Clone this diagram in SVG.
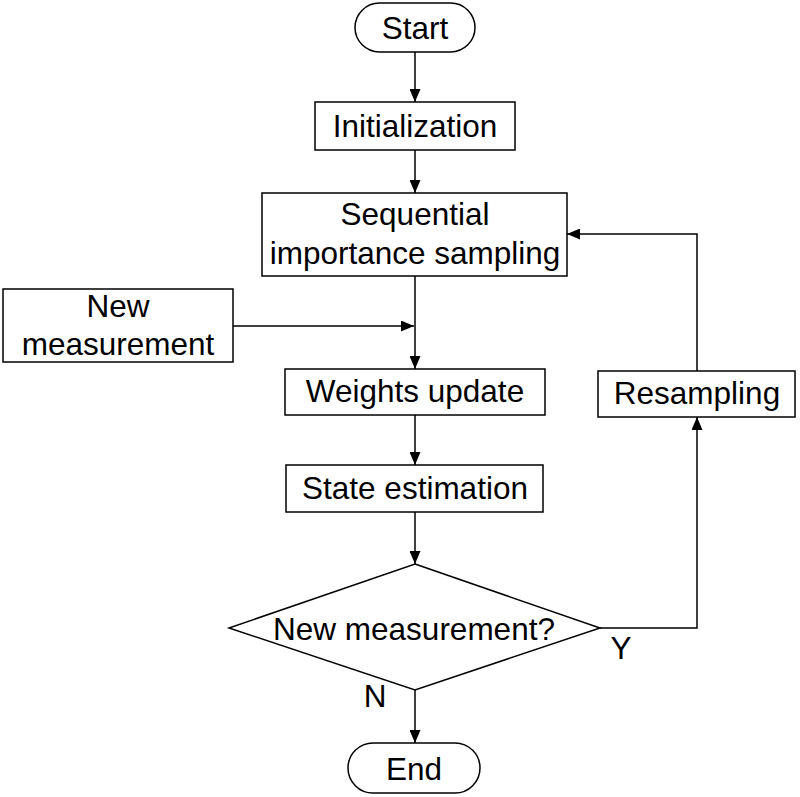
<svg xmlns="http://www.w3.org/2000/svg" width="800" height="797" viewBox="0 0 800 797">
<style>
.s{fill:#fff;stroke:#000;stroke-width:1.5}
.t{font-family:"Liberation Sans",Arial,sans-serif;font-size:31.5px;fill:#000;text-anchor:middle}
.c{fill:none;stroke:#000;stroke-width:1.5}
</style>
<defs>
<marker id="a" markerWidth="13" markerHeight="11" refX="13" refY="5.5" orient="auto" markerUnits="userSpaceOnUse">
<path d="M0,0 L13,5.5 L0,11 Z" fill="#000"/>
</marker>
</defs>
<rect width="800" height="797" fill="#fff"/>
<g id="connectors">
<line class="c" x1="415" y1="52" x2="415" y2="102" marker-end="url(#a)"/>
<line class="c" x1="415" y1="150" x2="415" y2="193" marker-end="url(#a)"/>
<line class="c" x1="415" y1="276" x2="415" y2="369" marker-end="url(#a)"/>
<line class="c" x1="233" y1="326" x2="414" y2="326" marker-end="url(#a)"/>
<line class="c" x1="415" y1="415" x2="415" y2="465" marker-end="url(#a)"/>
<line class="c" x1="415" y1="512" x2="415" y2="564" marker-end="url(#a)"/>
<line class="c" x1="415" y1="690" x2="415" y2="743" marker-end="url(#a)"/>
<polyline class="c" points="600,628 697,628 697,417" marker-end="url(#a)"/>
<polyline class="c" points="697,371 697,234 567,234" marker-end="url(#a)"/>
<text class="t" x="621" y="659">Y</text>
<text class="t" x="375" y="707">N</text>
</g>
<g id="start">
<rect class="s" x="355" y="3" width="120" height="49" rx="24.5"/>
<text class="t" x="415" y="39">Start</text>
</g>
<g id="init">
<rect class="s" x="315" y="102" width="200" height="48"/>
<text class="t" x="415" y="137">Initialization</text>
</g>
<g id="sis">
<rect class="s" x="262" y="193" width="305" height="83"/>
<text class="t" x="415" y="225">Sequential</text>
<text class="t" x="415" y="264">importance sampling</text>
</g>
<g id="newmeas">
<rect class="s" x="3" y="289" width="230" height="73"/>
<text class="t" x="118" y="317">New</text>
<text class="t" x="118" y="355">measurement</text>
</g>
<g id="weights">
<rect class="s" x="285" y="369" width="260" height="46"/>
<text class="t" x="415" y="402">Weights update</text>
</g>
<g id="state">
<rect class="s" x="286" y="465" width="257" height="47"/>
<text class="t" x="415" y="499">State estimation</text>
</g>
<g id="decision">
<polygon class="s" points="415,564 600,628 415,690 229,628"/>
<text class="t" x="414" y="640">New measurement?</text>
</g>
<g id="resampling">
<rect class="s" x="598" y="371" width="197" height="46"/>
<text class="t" x="697" y="404">Resampling</text>
</g>
<g id="end">
<rect class="s" x="348" y="743" width="132" height="50" rx="25"/>
<text class="t" x="414" y="780">End</text>
</g>
</svg>
